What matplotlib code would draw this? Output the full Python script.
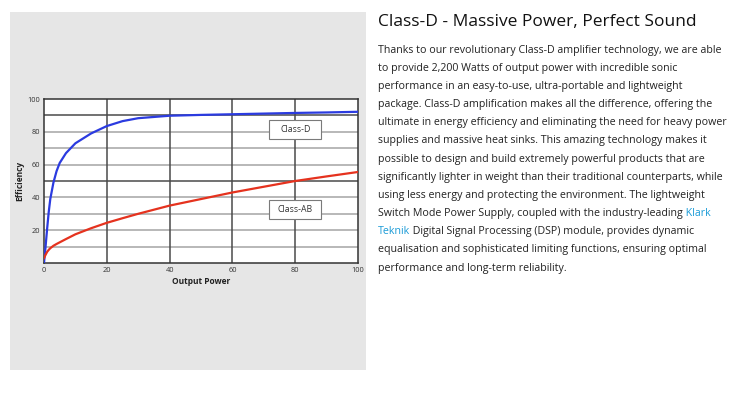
import matplotlib
matplotlib.use("Agg")
import matplotlib.pyplot as plt
from matplotlib.patches import Rectangle
from matplotlib.text import Annotation

plt.rcParams['font.family'] = ['Open Sans', 'DejaVu Sans']

# Data
power = [0, 0.5, 1, 1.5, 2, 3, 4, 5, 7, 10, 15, 20, 25, 30, 40, 50, 60, 70, 80, 90, 100]
class_d = [0, 10, 21, 31, 39, 49, 56, 61, 67, 73, 79, 83.5, 86.5, 88.3, 89.8, 90.3, 90.7, 91.1, 91.5, 91.8, 92.2]
class_ab = [3, 5, 6.8, 8, 9, 10.5, 11.6, 12.6, 14.6, 17.5, 21.2, 24.5, 27.3, 30, 35, 39, 43, 46.5, 50, 52.8, 55.5]
xticks = [0, 20, 40, 60, 80, 100]
yticks = [20, 40, 60, 80, 100]
series_labels = ["Class-D", "Class-AB"]
title = "Class-D - Massive Power, Perfect Sound"
body = [
    "Thanks to our revolutionary Class-D amplifier technology, we are able",
    "to provide 2,200 Watts of output power with incredible sonic",
    "performance in an easy-to-use, ultra-portable and lightweight",
    "package. Class-D amplification makes all the difference, offering the",
    "ultimate in energy efficiency and eliminating the need for heavy power",
    "supplies and massive heat sinks. This amazing technology makes it",
    "possible to design and build extremely powerful products that are",
    "significantly lighter in weight than their traditional counterparts, while",
    "using less energy and protecting the environment. The lightweight",
    "Switch Mode Power Supply, coupled with the industry-leading",
    "Teknik",
    "equalisation and sophisticated limiting functions, ensuring optimal",
    "performance and long-term reliability.",
]
link_word = "Klark"
line11_rest = " Digital Signal Processing (DSP) module, provides dynamic"

W, H = 750, 393
fig = plt.figure(figsize=(7.5, 3.93), dpi=100)
fig.patch.set_facecolor('white')

# gray panel
fig.patches.append(Rectangle((10 / W, 1 - 370 / H), 356 / W, 358 / H,
                             transform=fig.transFigure, facecolor='#e6e6e6',
                             edgecolor='none', zorder=-5))

ax = fig.add_axes([44 / W, 1 - 263 / H, 314 / W, 164 / H])
ax.set_zorder(2)
ax.set_facecolor('white')
ax.set_xlim(0, 100)
ax.set_ylim(0, 100)

for y in range(10, 100, 10):
    dark = y in (50, 90)
    ax.axhline(y, color='#4a4a4a' if dark else '#b8b8b8', lw=1.1 if dark else 1.4, zorder=1)
for x in (20, 40, 60, 80):
    ax.axvline(x, color='#4a4a4a', lw=1.1, zorder=1)

ax.plot(power, class_d, color='#2b3be0', lw=1.6, zorder=3)
ax.plot(power, class_ab, color='#e5321e', lw=1.6, zorder=3)

for s in ax.spines.values():
    s.set_color('#333333')
    s.set_linewidth(1.1)

ax.set_xticks(xticks)
ax.set_yticks(yticks)
ax.tick_params(length=0, labelsize=5.3, colors='#333333', pad=3)
ax.set_xlabel("Output Power", fontsize=6, fontweight='bold', labelpad=2, color='#222222')
ax.set_ylabel("Efficiency", fontsize=6, fontweight='bold', labelpad=2, color='#222222')

# label boxes
for (lbl, cy) in zip(series_labels, [81.3, 32.7]):
    ax.add_patch(Rectangle((71.8, cy - 5.8), 16.5, 11.6, facecolor='white',
                           edgecolor='#7a7a7a', lw=0.8, zorder=5))
    ax.text(80, cy, lbl, ha='center', va='center', fontsize=6.3, color='#333333', zorder=6)

# right text
fs = 7.7
fig.text(378 / W, 1 - 22 / H, title, fontsize=12.5, color='#111111', va='center', ha='left')
x0 = 378 / W
for i, line in enumerate(body):
    yy = 1 - (50 + i * 18.17) / H
    if i == 9:
        t = fig.text(x0, yy, line, fontsize=fs, color='#222222', va='center', ha='left')
        fig.add_artist(Annotation(" " + link_word, xy=(1, 0), xycoords=t,
                                  fontsize=fs, color='#1a9bd7', va='bottom', ha='left',
                                  annotation_clip=False))
    elif i == 10:
        t2 = fig.text(x0, yy, line, fontsize=fs, color='#1a9bd7', va='center', ha='left')
        fig.add_artist(Annotation(line11_rest, xy=(1, 0), xycoords=t2,
                                  fontsize=fs, color='#222222', va='bottom', ha='left',
                                  annotation_clip=False))
    else:
        fig.text(x0, yy, line, fontsize=fs, color='#222222', va='center', ha='left')

fig.savefig("out.png", dpi=100, facecolor='white')
